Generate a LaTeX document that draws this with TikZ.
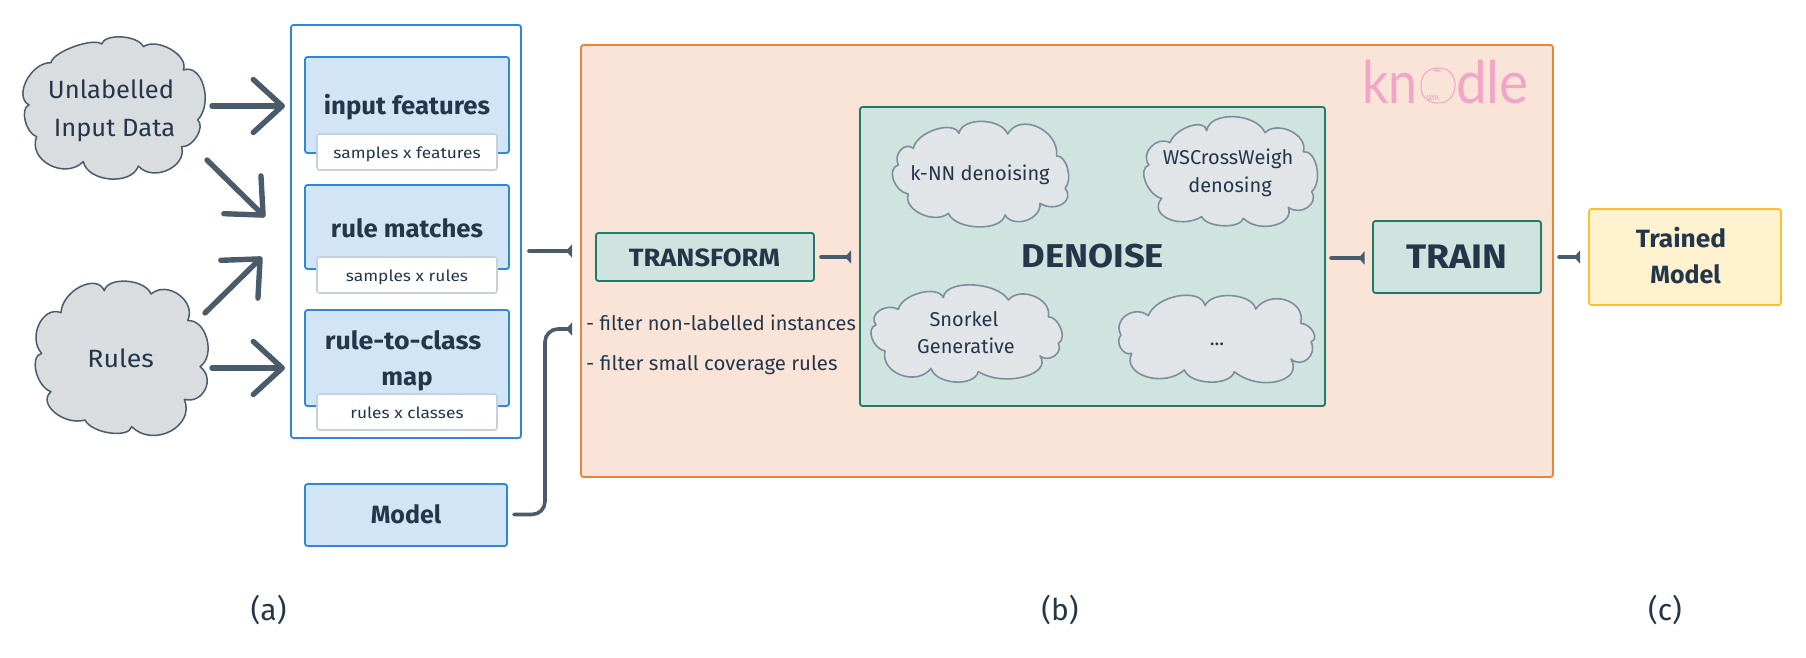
\documentclass[tikz,border=0pt]{standalone}
\usepackage{fontspec}
\setmainfont{Fira Sans}
\newfontfamily\logofont{Lato}
\usetikzlibrary{arrows.meta}
\definecolor{ink}{HTML}{24364A}
\definecolor{slate}{HTML}{4A5B6C}
\definecolor{bluel}{HTML}{2D88DA}
\definecolor{bluef}{HTML}{D2E5F6}
\definecolor{subl}{HTML}{C5D2DE}
\definecolor{cloudf}{HTML}{D9DDE0}
\definecolor{cloudg}{HTML}{E1E5E8}
\definecolor{cloudl}{HTML}{7F8E9E}
\definecolor{orl}{HTML}{E8843C}
\definecolor{orf}{HTML}{FAE4D7}
\definecolor{grl}{HTML}{1F7C68}
\definecolor{grf}{HTML}{CFE3DF}
\definecolor{yel}{HTML}{FBC02D}
\definecolor{yef}{HTML}{FEF2CF}
\definecolor{pinkk}{HTML}{F1A6C8}
% one bump of a cloud: start; peak; end
\def\bp#1,#2;#3,#4;#5,#6;{.. controls ({#1+1.2*(#3-(#1+#5)/2)+0.1*(#5-#1)},{#2+1.2*(#4-(#2+#6)/2)+0.1*(#6-#2)}) and ({#5+1.2*(#3-(#1+#5)/2)-0.1*(#5-#1)},{#6+1.2*(#4-(#2+#6)/2)-0.1*(#6-#2)}) .. (#5,#6)}
\tikzset{
  box/.style={rectangle,rounded corners=2.5pt,inner sep=0pt,line width=1.8pt},
  bluebox/.style={box,draw=bluel,fill=bluef},
  subbox/.style={box,draw=subl,fill=white,line width=1.6pt},
  greenbox/.style={box,draw=grl,fill=grf},
  lbl/.style={anchor=base,text=ink,inner sep=0pt,align=center},
  bigcl/.style={draw=slate,fill=cloudf,line width=1.5pt,line join=round},
  smallcl/.style={draw=cloudl,fill=cloudg,line width=1.6pt,line join=round},
  fat/.style={draw=slate,line width=5.4pt,line cap=round,-{Straight Barb[length=29pt,width=53pt,round]}},
  conn/.style={draw=slate,line width=3.6pt,line cap=round,-{Triangle[reversed,length=6pt,width=13pt]}},
}
\newcommand{\fs}[1]{\fontsize{#1}{#1}\selectfont}
\newcommand{\wide}[1]{\addfontfeature{FakeStretch=#1}}
\begin{document}
\begin{tikzpicture}[x=1pt,y=-1pt]
\useasboundingbox (0,0) rectangle (1806,658);
% containers
\node[box,draw=bluel,fill=white,minimum width=230pt,minimum height=413pt] (outer) at (406,231.5) {};
\node[box,draw=orl,fill=orf,minimum width=972pt,minimum height=432pt] (orange) at (1067,261) {};
% clouds
\begin{scope}[shift={(15,30)},scale=1/3]
\draw[bigcl] (108,98) \bp 108,98;175,48;260,42; \bp 260,42;320,18;385,50; \bp 385,50;470,55;505,120; \bp 505,120;570,165;548,270; \bp 548,270;548,320;500,350; \bp 500,350;460,425;370,408; \bp 370,408;285,452;205,395; \bp 205,395;100,410;65,320; \bp 65,320;28,272;42,225; \bp 42,225;30,150;108,98; -- cycle;
\end{scope}
\begin{scope}[shift={(25,270)},scale=1/3]
\draw[bigcl] (108,128) \bp 108,128;165,45;238,62; \bp 238,62;305,30;378,72; \bp 378,72;465,70;488,152; \bp 488,152;550,205;525,290; \bp 525,290;545,360;478,388; \bp 478,388;440,490;320,470; \bp 320,470;255,492;180,450; \bp 180,450;85,430;78,365; \bp 78,365;30,305;50,250; \bp 50,250;38,160;108,128; -- cycle;
\end{scope}
\node[lbl,font=\fs{25}\wide{1.02}] (u1) at (111,99) {Unlabelled};
\node[lbl,font=\fs{25}\wide{1.02}] (u2) at (114.5,136) {Input Data};
\node[lbl,font=\fs{25}\wide{1.07}] (rules) at (120.7,367) {Rules};
% blue boxes
\node[bluebox,minimum width=204pt,minimum height=96pt] (inp) at (407,105) {};
\node[bluebox,minimum width=204pt,minimum height=84pt] (rm) at (407,227) {};
\node[bluebox,minimum width=204pt,minimum height=96pt] (rc) at (407,358) {};
\node[subbox,minimum width=180pt,minimum height=36pt] (s1) at (407,152) {};
\node[subbox,minimum width=180pt,minimum height=36pt] (s2) at (407,275) {};
\node[subbox,minimum width=180pt,minimum height=36pt] (s3) at (407,412) {};
\node[bluebox,minimum width=202pt,minimum height=62pt] (model) at (406,515) {};
\node[lbl,font=\bfseries\fs{25}\wide{1.03}] (t1) at (407,114) {input features};
\node[lbl,font=\bfseries\fs{25}\wide{1.03}] (t2) at (407,237) {rule matches};
\node[lbl,font=\bfseries\fs{25}\wide{1.07}] (t3) at (403,349.6) {rule-to-class};
\node[lbl,font=\bfseries\fs{25}\wide{1.03}] (t3b) at (407,385) {map};
\node[lbl,font=\bfseries\fs{25}] (t4) at (406,523.7) {Model};
\node[lbl,font=\fs{15.5}\wide{1.12}] (l1) at (407,158.6) {samples x features};
\node[lbl,font=\fs{15.5}\wide{1.12}] (l2) at (407,281) {samples x rules};
\node[lbl,font=\fs{15.5}\wide{1.12}] (l3) at (407,418) {rules x classes};
% big arrows
\coordinate (a1s) at (212,106); \coordinate (a1e) at (285,106);
\coordinate (a2s) at (207,160); \coordinate (a2e) at (265,217);
\coordinate (a3s) at (205,313); \coordinate (a3e) at (262,257);
\coordinate (a4s) at (212,368); \coordinate (a4e) at (285,368);
\draw[fat] (a1s) -- (a1e);
\draw[fat] (a2s) -- (a2e);
\draw[fat] (a3s) -- (a3e);
\draw[fat] (a4s) -- (a4e);
% transform
\node[greenbox,minimum width=218pt,minimum height=48pt] (tr) at (705,257) {};
\node[lbl,font=\bfseries\fs{25}\wide{1.09}] (trt) at (704.4,266) {TRANSFORM};
\node[lbl,anchor=base west,font=\fs{20}] (f1) at (586,330) {- filter non-labelled instances};
\node[lbl,anchor=base west,font=\fs{20}\wide{1.02}] (f2) at (586,370) {- filter small coverage rules};
% denoise
\node[greenbox,minimum width=465pt,minimum height=299pt] (den) at (1092.5,256.5) {};
\begin{scope}[shift={(885,110)},scale=1/3]
\draw[smallcl] (85,115) \bp 85,115;150,55;222,70; \bp 222,70;290,30;368,72; \bp 368,72;460,45;515,138; \bp 515,138;550,175;540,235; \bp 540,235;535,285;465,280; \bp 465,280;425,335;360,315; \bp 360,315;280,355;190,310; \bp 190,310;105,315;70,252; \bp 70,252;22,210;40,165; \bp 40,165;45,118;85,115; -- cycle;
\end{scope}
\begin{scope}[shift={(1135,110)},scale=1/3]
\draw[smallcl] (105,98) \bp 105,98;165,45;215,62; \bp 215,62;295,15;390,68; \bp 390,68;470,60;505,125; \bp 505,125;548,170;530,245; \bp 530,245;520,295;460,292; \bp 460,292;420,350;325,325; \bp 325,325;265,350;200,320; \bp 200,320;95,330;80,265; \bp 80,265;28,215;42,165; \bp 42,165;45,108;105,98; -- cycle;
\end{scope}
\begin{scope}[shift={(865,275)},scale=1/3]
\draw[smallcl] (100,103) \bp 100,103;165,50;235,68; \bp 235,68;320,25;430,75; \bp 430,75;510,60;550,125; \bp 550,125;590,160;580,205; \bp 580,205;570,245;525,243; \bp 525,243;480,310;340,290; \bp 340,290;270,325;198,280; \bp 198,280;105,305;60,228; \bp 60,228;18,190;33,150; \bp 33,150;40,105;100,103; -- cycle;
\end{scope}
\begin{scope}[shift={(1115,285)},scale=1/3]
\draw[smallcl] (100,92) \bp 100,92;190,28;270,62; \bp 270,62;350,28;422,72; \bp 422,72;515,40;557,115; \bp 557,115;597,140;588,170; \bp 588,170;580,225;528,222; \bp 528,222;490,295;358,260; \bp 358,260;285,295;208,255; \bp 208,255;90,280;50,205; \bp 50,205;15,190;18,150; \bp 18,150;30,88;100,92; -- cycle;
\end{scope}
\node[lbl,font=\fs{20}] (k) at (980,180.7) {k-NN denoising};
\node[lbl,font=\fs{20}] (w1) at (1228,164.3) {WSCrossWeigh};
\node[lbl,font=\fs{20}] (w2) at (1230,192.7) {denosing};
\node[lbl,font=\fs{20}] (s1t) at (964,326) {Snorkel};
\node[lbl,font=\fs{20}] (s2t) at (966,353) {Generative};
\node[lbl,font=\fs{20}] (dots) at (1217,345) {...};
\node[lbl,font=\bfseries\fs{33}\wide{1.1}] (dent) at (1092.8,267.7) {DENOISE};
% train, output
\node[greenbox,minimum width=168pt,minimum height=72pt] (train) at (1457,257) {};
\node[lbl,font=\bfseries\fs{34}\wide{1.1}] (traint) at (1456.7,268) {TRAIN};
\node[box,draw=yel,fill=yef,minimum width=192pt,minimum height=96pt] (out) at (1685,257) {};
\node[lbl,font=\bfseries\fs{25}\wide{1.05}] (o1) at (1681,247) {Trained};
\node[lbl,font=\bfseries\fs{25}] (o2) at (1685.6,283) {Model};
% connectors
\coordinate (c1s) at (529,251); \coordinate (c1e) at (572,251);
\coordinate (c2s) at (514,514.5); \coordinate (c2m) at (545,329); \coordinate (c2e) at (572,329);
\coordinate (c3s) at (821,257); \coordinate (c3e) at (851,257);
\coordinate (c4s) at (1331,258); \coordinate (c4e) at (1364.5,258);
\coordinate (c5s) at (1559,257); \coordinate (c5e) at (1580,257);
\draw[conn] (c1s) -- (c1e);
\draw[conn,rounded corners=13pt] (c2s) -| (c2m) -- (c2e);
\draw[conn] (c3s) -- (c3e);
\draw[conn] (c4s) -- (c4e);
\draw[conn] (c5s) -- (c5e);
% logo
\node[anchor=base west,inner sep=0pt,text=pinkk,font=\logofont\fontsize{59}{59}\selectfont\wide{0.88}] (kn) at (1362,104) {kn};
\node[anchor=base east,inner sep=0pt,text=pinkk,font=\logofont\fontsize{59}{59}\selectfont\wide{0.93}] (dle) at (1529,104) {dle};
\begin{scope}[pinkk,line width=1pt]
\draw (1438,68) .. controls (1448,67) and (1456,76) .. (1455,86) .. controls (1455,96) and (1447,104) .. (1437,103) .. controls (1427,103) and (1420,95) .. (1421,85) .. controls (1421,75) and (1428,68) .. (1438,68);
\draw (1437,68) -- (1436,72) (1433,70) -- (1441,71);
\foreach \i in {0,...,4}{\draw[line width=.8pt] (1427+\i*2.4,95) -- (1429+\i*2.4,100);}
\end{scope}
% captions
\node[lbl,font=\fs{30}] (ca) at (268.6,620) {(a)};
\node[lbl,font=\fs{30}] (cb) at (1060,620) {(b)};
\node[lbl,font=\fs{30}] (cc) at (1665,620) {(c)};
\end{tikzpicture}
\end{document}
